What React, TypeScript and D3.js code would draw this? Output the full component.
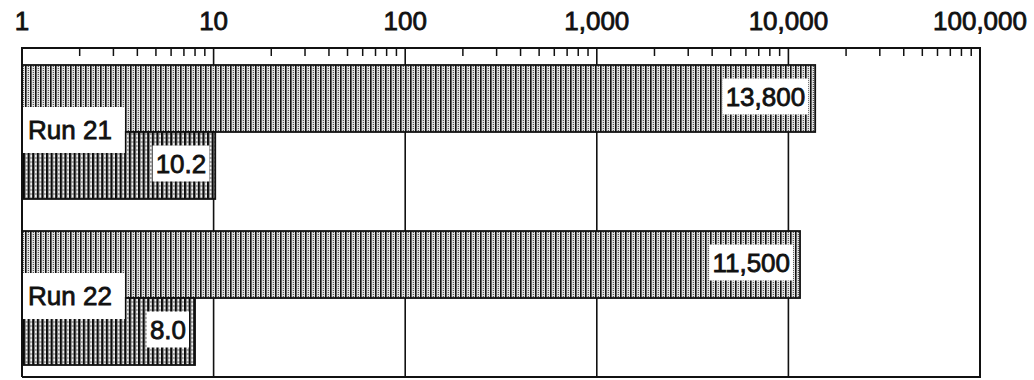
import React, { useEffect, useRef } from "react";
import * as d3 from "d3";

const runs = ["Run 21", "Run 22"];
const seriesHigh = [13800, 11500];
const seriesLow = [10.2, 8.0];
const tickValues = [1, 10, 100, 1000, 10000, 100000];

const W = 1034;
const H = 380;
const FONT = "'Liberation Sans', Arial, Helvetica, sans-serif";

export default function App() {
  const ref = useRef<SVGSVGElement | null>(null);

  useEffect(() => {
    const svg = d3.select(ref.current);
    svg.selectAll("*").remove();

    const left = 22, right = 980, top = 48, bottom = 377, plotTop = 65;
    const x = d3.scaleLog().domain([1, 100000]).range([left, right]);
    const y = d3.scaleBand<string>().domain(runs).range([plotTop, 365]).paddingInner(0.193).paddingOuter(0);
    const sub = d3.scaleBand<string>().domain(["high", "low"]).range([0, y.bandwidth()]).padding(0);

    const defs = svg.append("defs");
    // pattern for large bars: black lines with dotted grey between
    const p1 = defs.append("pattern").attr("id", "patHigh").attr("patternUnits", "userSpaceOnUse")
      .attr("width", 5).attr("height", 2);
    p1.append("rect").attr("width", 5).attr("height", 2).attr("fill", "#e4e4e4");
    p1.append("rect").attr("x", 0).attr("width", 1.6).attr("height", 2).attr("fill", "#111");
    p1.append("rect").attr("x", 2.8).attr("y", 0).attr("width", 1).attr("height", 1).attr("fill", "#333");
    // pattern for small bars: heavier black lines
    const p2 = defs.append("pattern").attr("id", "patLow").attr("patternUnits", "userSpaceOnUse")
      .attr("width", 4.6).attr("height", 4);
    p2.append("rect").attr("width", 4.6).attr("height", 4).attr("fill", "#eeeeee");
    p2.append("rect").attr("x", 0).attr("width", 2.3).attr("height", 4).attr("fill", "#0a0a0a");
    p2.append("rect").attr("x", 3.2).attr("y", 1).attr("width", 0.8).attr("height", 2).attr("fill", "#555");

    const g = svg.append("g");

    // decade gridlines
    g.selectAll("line.grid").data(tickValues.slice(1, -1)).enter().append("line")
      .attr("x1", d => x(d)).attr("x2", d => x(d)).attr("y1", top).attr("y2", bottom)
      .attr("stroke", "#111").attr("stroke-width", 1.6);

    // minor ticks
    const minor = x.ticks().filter(v => !tickValues.includes(v));
    g.selectAll("line.minor").data(minor).enter().append("line")
      .attr("x1", d => x(d)).attr("x2", d => x(d)).attr("y1", top).attr("y2", top + 8)
      .attr("stroke", "#111").attr("stroke-width", 1.5);

    // tick labels
    const fmt = d3.format(",");
    g.selectAll("text.tick").data(tickValues).enter().append("text")
      .attr("x", d => x(d)).attr("y", 30).attr("text-anchor", "middle")
      .attr("font-family", FONT).attr("font-size", 26).attr("fill", "#111")
      .attr("stroke", "#111").attr("stroke-width", 0.8)
      .text(d => fmt(d));

    const fmtVal = (v: number) => (v >= 1000 ? d3.format(",")(v) : d3.format(".1f")(v));

    const drawBar = (vals: number[], key: string, pat: string) => {
      runs.forEach((r, i) => {
        const y0 = (y(r) as number) + (sub(key) as number);
        const h = sub.bandwidth();
        const x1 = x(vals[i]);
        g.append("rect").attr("x", left).attr("y", y0).attr("width", x1 - left).attr("height", h)
          .attr("fill", `url(#${pat})`).attr("stroke", "#111").attr("stroke-width", 1.8);
      });
    };
    drawBar(seriesHigh, "high", "patHigh");
    drawBar(seriesLow, "low", "patLow");

    const labelWithBox = (tx: number, ty: number, anchor: string, str: string, padL: number, padR: number, boxH: number, boxLeft?: number) => {
      const grp = g.append("g");
      const rect = grp.append("rect").attr("fill", "#fff");
      const t = grp.append("text").attr("x", tx).attr("y", ty).attr("dy", "0.36em")
        .attr("text-anchor", anchor).attr("font-family", FONT).attr("font-size", 26).attr("fill", "#111")
        .attr("stroke", "#111").attr("stroke-width", 0.8).text(str);
      const bb = (t.node() as SVGTextElement).getBBox();
      const bx = boxLeft !== undefined ? boxLeft : bb.x - padL;
      rect.attr("x", bx).attr("y", ty - boxH / 2).attr("width", bb.x + bb.width + padR - bx).attr("height", boxH);
    };

    runs.forEach((r, i) => {
      const yb = y(r) as number;
      const yh = yb + (sub("high") as number) + sub.bandwidth() / 2;
      const yl = yb + (sub("low") as number) + sub.bandwidth() / 2;
      labelWithBox(x(seriesHigh[i]) - 10, yh - 2, "end", fmtVal(seriesHigh[i]), 3, 3, 36);
      labelWithBox(x(seriesLow[i]) - 9, yl - 2, "end", fmtVal(seriesLow[i]), 3, 3, 36);
      labelWithBox(28, yb + y.bandwidth() / 2 - 2, "start", r, 0, 13, 46, left);
    });

    // frame
    g.append("path")
      .attr("d", `M${left},${bottom}V${top}H${right}V${bottom}H${left}`)
      .attr("fill", "none").attr("stroke", "#111").attr("stroke-width", 2);
  }, []);

  return (
    <svg ref={ref} width={W} height={H} style={{ position: "absolute", left: 0, top: 0, background: "#fff" }} />
  );
}
